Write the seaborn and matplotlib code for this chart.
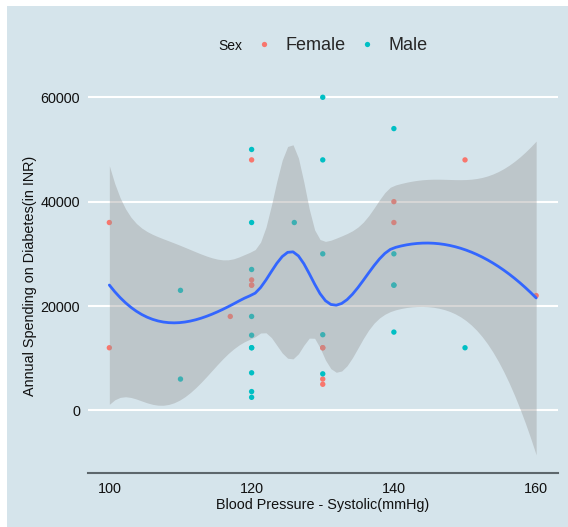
import numpy as np
import pandas as pd
import matplotlib
matplotlib.use("Agg")
import matplotlib.pyplot as plt
from matplotlib.patches import Rectangle
from matplotlib.lines import Line2D
from matplotlib.ticker import FuncFormatter
import seaborn as sns

# ---- data (one entry per respondent; some respondents share identical values) ----
female_bp = [100, 100, 117, 120, 120, 120, 120, 130, 130, 130, 130,
             140, 140, 150, 160]
female_spend = [36000, 12000, 18000, 48000, 25000, 24000, 24000, 12000, 12000,
                6000, 5000, 40000, 36000, 48000, 22000]
male_bp = [110, 110, 120, 120, 120, 120, 120, 120, 120, 120, 120, 120, 126,
           130, 130, 130, 130, 130, 140, 140, 140, 140, 140, 150]
male_spend = [23000, 6000, 50000, 36000, 27000, 18000, 14400, 12000, 12000,
              7200, 3600, 2500, 36000, 60000, 48000, 30000, 14500, 7000,
              54000, 30000, 24000, 24000, 15000, 12000]

sex_levels = ["Female", "Male"]
sex_colors = ["#F8766D", "#00BFC4"]
x_ticks = [100, 120, 140, 160]
y_ticks = [0, 20000, 40000, 60000]

# loess settings (span, kd-tree cell, confidence level, evaluation points)
SPAN = 0.75
CELL = 0.2
LEVEL = 0.95
N_GRID = 80


# ---- loess (degree 2, kd-tree vertices + cubic Hermite interpolation) --
def kd_vertices(x, fc):
    xs = np.sort(np.asarray(x, float))
    n = xs.size
    lo, hi = xs[0], xs[-1]
    mu = 0.005 * max(hi - lo, 1e-10 * max(abs(lo), abs(hi)) + 1e-30)
    verts = {lo - mu, hi + mu}
    stack = [(0, n - 1, lo - mu, hi + mu)]
    while stack:
        l, u, a, b = stack.pop()
        if u - l + 1 <= fc:
            continue
        m = (l + u) // 2
        off = 0
        while l <= m + off < u:
            if xs[m + off] != xs[m + off + 1]:
                m = m + off
                break
            off = -off
            if off >= 0:
                off += 1
        xi = xs[m]
        if xi == a or xi == b:
            continue
        verts.add(xi)
        stack.append((l, m, a, xi))
        stack.append((m + 1, u, xi, b))
    return np.array(sorted(verts))


def local_operator(x, q0, nq):
    dist = np.abs(x - q0)
    rho = np.sort(dist)[nq - 1]
    w = np.sqrt(np.clip(1 - (dist / rho) ** 3, 0, None) ** 3)
    X = np.column_stack([np.ones_like(x), x - q0, (x - q0) ** 2])
    B = w[:, None] * X
    colnor = np.sqrt((B ** 2).sum(axis=0))
    colnor[colnor == 0] = 1.0
    Bs = B / colnor
    U, sig, Vt = np.linalg.svd(Bs, full_matrices=False)
    keep = sig > sig[0] * 100 * np.finfo(float).eps
    P = (Vt[keep].T / sig[keep]) @ U[:, keep].T
    coef = (P * w[None, :]) / colnor[:, None]
    return coef[0], coef[1]


def interp_operator(z, verts, val_rows, slope_rows):
    z = np.atleast_1d(np.asarray(z, float))
    idx = np.clip(np.searchsorted(verts, z, side="right") - 1, 0, len(verts) - 2)
    x0, x1 = verts[idx], verts[idx + 1]
    h = x1 - x0
    t = (z - x0) / h
    phi0 = (1 - t) ** 2 * (1 + 2 * t)
    phi1 = t ** 2 * (3 - 2 * t)
    psi0 = t * (1 - t) ** 2
    psi1 = -t ** 2 * (1 - t)
    return (phi0[:, None] * val_rows[idx] + phi1[:, None] * val_rows[idx + 1]
            + h[:, None] * (psi0[:, None] * slope_rows[idx]
                            + psi1[:, None] * slope_rows[idx + 1]))


def t_quantile(p, df):
    try:
        from scipy import stats
        return float(stats.t.ppf(p, df))
    except Exception:
        from math import lgamma, pi, exp, sqrt
        c = exp(lgamma((df + 1) / 2) - lgamma(df / 2)) / sqrt(df * pi)
        t = np.linspace(0, 80, 800001)
        pdf = c * (1 + t ** 2 / df) ** (-(df + 1) / 2)
        cdf = 0.5 + np.concatenate([[0], np.cumsum((pdf[1:] + pdf[:-1]) / 2 * np.diff(t))])
        return float(np.interp(p, cdf, t))


bp = np.array(female_bp + male_bp, float)
spend = np.array(female_spend + male_spend, float)
sex = [sex_levels[0]] * len(female_bp) + [sex_levels[1]] * len(male_bp)
n = bp.size
nq = int(np.floor(n * SPAN + 1e-5))
fc = int(np.floor(n * SPAN * CELL))

verts = kd_vertices(bp, fc)
ops = [local_operator(bp, v, nq) for v in verts]
V = np.array([o[0] for o in ops])
S = np.array([o[1] for o in ops])

L_data = interp_operator(bp, verts, V, S)
resid = spend - L_data @ spend
M = np.eye(n) - L_data
R = M.T @ M
delta1 = np.trace(R)
delta2 = np.trace(R @ R)
s_res = np.sqrt((resid ** 2).sum() / delta1)

grid = np.linspace(bp.min(), bp.max(), N_GRID)
L_grid = interp_operator(grid, verts, V, S)
fit = L_grid @ spend
se = s_res * np.sqrt((L_grid ** 2).sum(axis=1))
tq = t_quantile(0.5 + LEVEL / 2, delta1 ** 2 / delta2)
lower = fit - tq * se
upper = fit + tq * se

df = pd.DataFrame({"bp": bp, "spend": spend, "Sex": sex})

# ---- figure -----------------------------------------------------------
W, H = 568, 527
BG = "#d5e4eb"
sns.set_style("white")
plt.rcParams["font.family"] = ["Liberation Sans", "DejaVu Sans"]

fig = plt.figure(figsize=(W / 100, H / 100), dpi=100, facecolor="white")
fig.patches.append(Rectangle((7 / W, 0), 1 - 7 / W, 1 - 6 / H,
                             transform=fig.transFigure, facecolor=BG,
                             edgecolor="none", zorder=-10))

ax_l, ax_r, ax_t, ax_b = 88, 557.5, 79.4, 472.7
ax = fig.add_axes([ax_l / W, (H - ax_b) / H, (ax_r - ax_l) / W, (ax_b - ax_t) / H])
ax.set_facecolor(BG)

palette = dict(zip(sex_levels, sex_colors))
sns.scatterplot(data=df, x="bp", y="spend", hue="Sex", palette=palette,
                s=15, linewidth=0, legend=False, ax=ax, zorder=2)
ax.fill_between(grid, lower, upper, color="#999999", alpha=0.4,
                linewidth=0, zorder=3)
sns.lineplot(x=grid, y=fit, color="#3366FF", linewidth=2.0, ax=ax, zorder=4)

xr = bp.max() - bp.min()
ax.set_xlim(bp.min() - 0.05 * xr, bp.max() + 0.05 * xr)
ylo = min(spend.min(), lower.min())
yhi = max(spend.max(), upper.max())
yr = yhi - ylo
ax.set_ylim(ylo - 0.05 * yr, yhi + 0.05 * yr)

ax.set_xticks(x_ticks)
ax.set_yticks(y_ticks)
ax.yaxis.set_major_formatter(FuncFormatter(lambda v, p: f"{v:.0f}"))
ax.set_axisbelow(True)
ax.yaxis.grid(True, color="white", linewidth=1.5)
ax.xaxis.grid(False)
for side in ("top", "left", "right"):
    ax.spines[side].set_visible(False)
ax.spines["bottom"].set_color("#5d676c")
ax.spines["bottom"].set_linewidth(1.5)

ax.tick_params(axis="x", direction="in", length=4.3, width=0.8, color="#333333",
               pad=6.4, labelsize=10.4, labelcolor="#111111")
ax.tick_params(axis="y", length=0, pad=5.8, labelsize=10.4, labelcolor="#111111")

ax.set_xlabel("Blood Pressure - Systolic(mmHg)", fontsize=10.4, color="#111111")
ax.xaxis.set_label_coords(0.5, (H - 497.5 - (H - ax_b)) / (ax_b - ax_t))
ax.set_ylabel("Annual Spending on Diabetes(in INR)", fontsize=10.4, color="#111111")
ax.yaxis.label.set_va("center")
ax.yaxis.set_label_coords((30.5 - ax_l) / (ax_r - ax_l), 0.5)

# legend across the top
handles = [Line2D([], [], linestyle="none", marker="o", markersize=3.8,
                  markerfacecolor=c, markeredgewidth=0) for c in sex_colors]
fig.legend(handles, sex_levels, loc="center left",
           bbox_to_anchor=(255.3 / W, 1 - 45.5 / H), ncol=2, frameon=False,
           fontsize=13, handlelength=1.0, handletextpad=0.7,
           columnspacing=0.65, borderpad=0, borderaxespad=0)
fig.text(218.3 / W, 1 - 45.5 / H, "Sex", fontsize=10, va="center", ha="left",
         color="#111111")

fig.savefig("out.png", dpi=100, facecolor="white")
